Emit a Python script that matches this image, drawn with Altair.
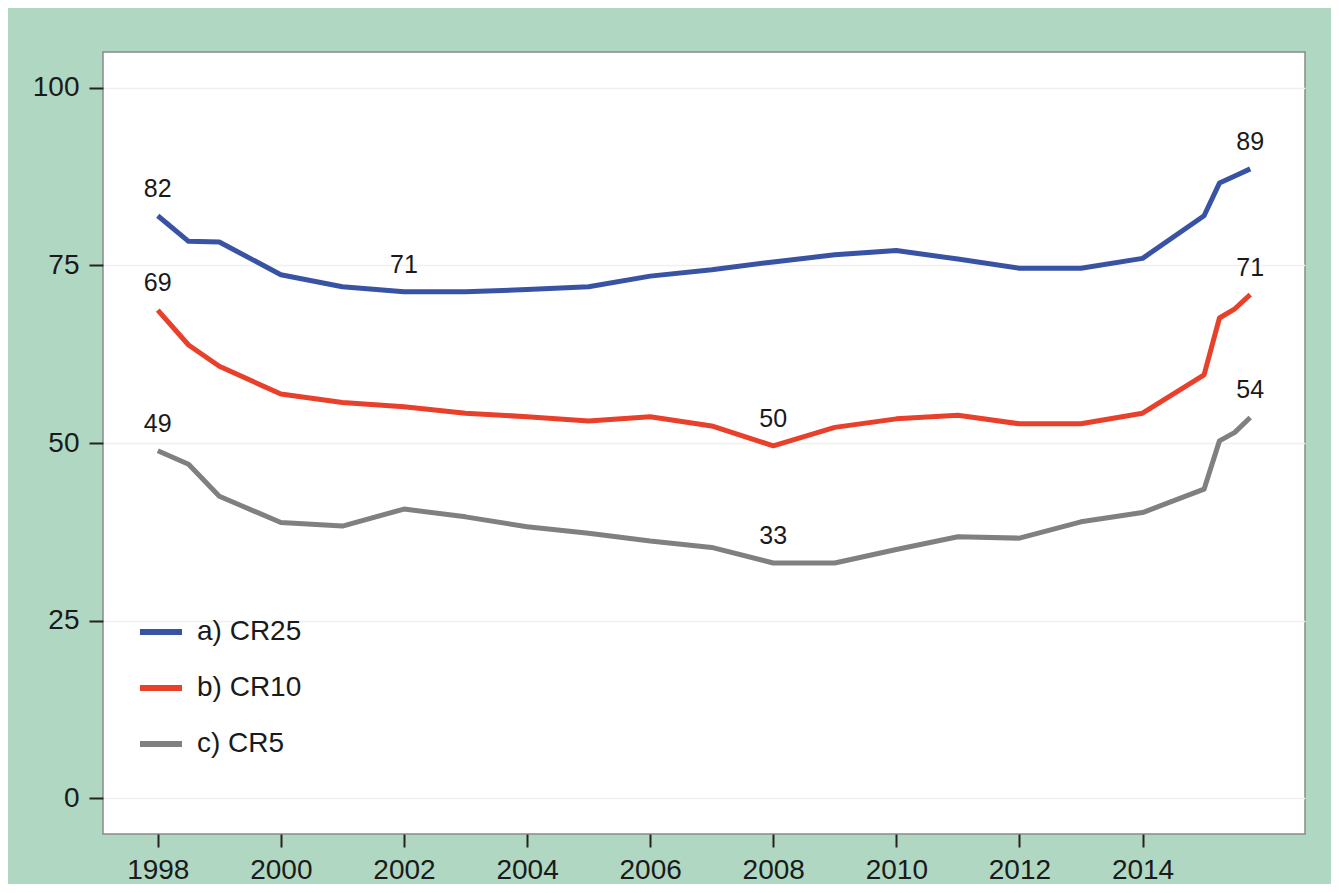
import altair as alt
import pandas as pd

years = [1998, 1998.5, 1999, 2000, 2001, 2002, 2003, 2004, 2005, 2006, 2007,
         2008, 2009, 2010, 2011, 2012, 2013, 2014, 2015, 2015.25, 2015.5, 2015.75]

cr25 = [82.0, 78.4, 78.3, 73.7, 72.0, 71.3, 71.3, 71.6, 72.0, 73.5, 74.4,
        75.5, 76.5, 77.1, 75.9, 74.6, 74.6, 76.0, 82.0, 86.6, 87.6, 88.6]
cr10 = [68.7, 63.8, 60.8, 56.9, 55.7, 55.1, 54.2, 53.7, 53.1, 53.7, 52.4,
        49.6, 52.2, 53.4, 53.9, 52.7, 52.7, 54.2, 59.6, 67.6, 68.9, 70.9]
cr5 = [48.9, 47.0, 42.5, 38.8, 38.3, 40.7, 39.6, 38.2, 37.3, 36.2, 35.3,
       33.1, 33.1, 35.0, 36.8, 36.6, 38.9, 40.2, 43.5, 50.3, 51.5, 53.6]

series_names = ["a) CR25", "b) CR10", "c) CR5"]
series_colors = ["#3953a4", "#e8402b", "#808080"]

# annotated points: (series index, year)
label_series = [0, 0, 0, 1, 1, 1, 2, 2, 2]
label_years = [1998, 2002, 2015.75, 1998, 2008, 2015.75, 1998, 2008, 2015.75]

values = [cr25, cr10, cr5]
rows = []
for name, vals in zip(series_names, values):
    for yr, v in zip(years, vals):
        rows.append({"year": yr, "value": v, "series": name})
df = pd.DataFrame(rows)

lab_rows = []
for si, yr in zip(label_series, label_years):
    v = values[si][years.index(yr)]
    lab_rows.append({"year": yr, "value": v, "text": str(int(round(v + 1e-9)))})
lab_df = pd.DataFrame(lab_rows)

FONT = "Liberation Sans"

x_scale = alt.Scale(domain=[1997.11, 2016.64], nice=False, zero=False)
y_scale = alt.Scale(domain=[-5.06, 105.06], nice=False, zero=False)

lines = alt.Chart(df).mark_line(strokeWidth=5, strokeJoin="round").encode(
    x=alt.X("year:Q", scale=x_scale,
            axis=alt.Axis(values=list(range(1998, 2015, 2)), format="d", title=None,
                          grid=False, domain=False, tickColor="#222222", tickWidth=2,
                          tickSize=13, labelPadding=9, labelFontSize=28,
                          labelColor="#1a1a1a", labelFont=FONT)),
    y=alt.Y("value:Q", scale=y_scale,
            axis=alt.Axis(values=[0, 25, 50, 75, 100], title=None, grid=True,
                          gridColor="#f0f0f0", gridWidth=1.5, domain=False,
                          tickColor="#222222", tickWidth=2, tickSize=14,
                          labelPadding=10, labelFontSize=28, labelColor="#1a1a1a",
                          labelFont=FONT)),
    color=alt.Color("series:N",
                    scale=alt.Scale(domain=series_names, range=series_colors),
                    legend=alt.Legend(title=None, orient="none", legendX=34, legendY=556,
                                      symbolType="stroke", symbolSize=1764,
                                      symbolStrokeWidth=6, labelFontSize=28,
                                      labelFont=FONT, labelColor="#1a1a1a",
                                      labelOffset=12, rowPadding=18, padding=0)),
)

texts = alt.Chart(lab_df).mark_text(fontSize=25, font=FONT, color="#1a1a1a",
                                    dy=-27, baseline="middle").encode(
    x=alt.X("year:Q", scale=x_scale),
    y=alt.Y("value:Q", scale=y_scale),
    text="text:N",
)

chart = alt.layer(lines, texts).properties(
    width=1202, height=782,
    autosize=alt.AutoSizeParams(type="none"),
    padding={"left": 95, "top": 44, "right": 26, "bottom": 50},
    background="#afd7c2",
).configure_view(
    fill="white", stroke="#8a8a8a", strokeWidth=1.5
)

chart.save("out.html", embed_options={"renderer": "svg", "actions": False})
